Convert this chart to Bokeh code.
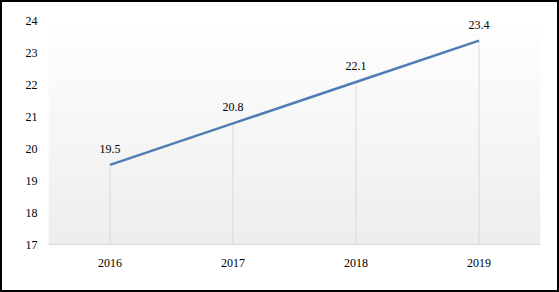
import numpy as np
from bokeh.plotting import figure
from bokeh.models import FixedTicker, ColumnDataSource
from bokeh.embed import file_html
from bokeh.resources import INLINE
from bokeh.core.properties import value

years = ["2016", "2017", "2018", "2019"]
values = [19.5, 20.8, 22.1, 23.4]
y_ticks = [17, 18, 19, 20, 21, 22, 23, 24]

xs = list(range(1, len(years) + 1))
labels = [f"{v:.1f}" for v in values]
base = [y_ticks[0]] * len(values)

src = ColumnDataSource(dict(x=xs, y=values, base=base, label=labels))

p = figure(width=559, height=292, output_backend="svg", toolbar_location=None,
           x_range=(0.5, len(years) + 0.5), y_range=(y_ticks[0], y_ticks[-1] + 0.25),
           min_border_left=46, min_border_right=21, min_border_top=11, min_border_bottom=50)
p.styles = {"border": "2px solid #000", "background": "#ffffff"}
p.outline_line_color = None
p.background_fill_color = "#ffffff"

# gradient background
h, w = 100, 50
grad = np.zeros((h, w), dtype=np.uint32)
view = grad.view(dtype=np.uint8).reshape((h, w, 4))
for i in range(h):
    t = i / (h - 1)  # 0 bottom, 1 top
    c = int(238 + (255 - 238) * t)
    view[i, :, 0] = c
    view[i, :, 1] = c
    view[i, :, 2] = c
    view[i, :, 3] = 255
p.image_rgba(image=[grad], x=0.5, y=y_ticks[0], dw=len(years), dh=y_ticks[-1] - y_ticks[0])

p.segment(x0="x", y0="base", x1="x", y1="y", source=src, line_color="#d9d9d9", line_width=1)
p.line(x="x", y="y", source=src, line_color="#4f7db3", line_width=2.5)
p.text(x="x", y="y", text="label", source=src, text_align="center", text_baseline="bottom",
       y_offset=-12, text_font=value("Liberation Serif"), text_font_size="12px", text_color="#000000")

p.xgrid.grid_line_color = None
p.ygrid.grid_line_color = None

p.xaxis.ticker = FixedTicker(ticks=xs)
p.xaxis.major_label_overrides = {x: y for x, y in zip(xs, years)}
p.xaxis.axis_line_color = "#d9d9d9"
p.xaxis.major_label_standoff = 14
p.yaxis.ticker = FixedTicker(ticks=y_ticks)
p.yaxis.axis_line_color = None
p.yaxis.major_label_standoff = 11
for ax in (p.xaxis, p.yaxis):
    ax.major_tick_line_color = None
    ax.minor_tick_line_color = None
    ax.major_tick_out = 0
    ax.major_tick_in = 0
    ax.minor_tick_out = 0
    ax.minor_tick_in = 0
    ax.major_label_text_font = "Liberation Serif"
    ax.major_label_text_font_size = "12px"
    ax.major_label_text_color = "#000000"

open("out.html", "w").write(file_html(p, INLINE))
